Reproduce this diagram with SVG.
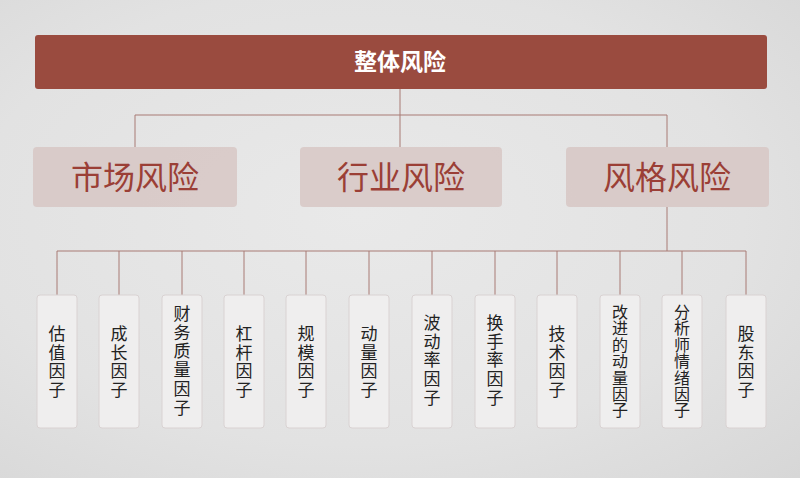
<svg xmlns="http://www.w3.org/2000/svg" width="800" height="478" viewBox="0 0 800 478">
<defs>
<radialGradient id="bg" cx="0.45" cy="0.45" r="0.8">
<stop offset="0" stop-color="#e9e9e9"/>
<stop offset="0.6" stop-color="#e2e2e2"/>
<stop offset="1" stop-color="#d6d6d6"/>
</radialGradient>
<style>
.conn{stroke:#a87a74;stroke-width:1;fill:none}
.mid rect{fill:#d7c7c4;opacity:0.85}
.mid text{font-family:"Noto Sans CJK SC","Noto Sans",sans-serif;font-size:32px;fill:#9b3f36;text-anchor:middle}
.leaf rect{fill:#efeeee;stroke:#d9d2d2;stroke-width:1}
.leaf text{font-family:"Noto Sans CJK SC","Noto Sans",sans-serif;font-size:17px;fill:#222;text-anchor:middle}
.leaf text.t7{font-size:16px}
</style>
</defs>
<rect width="800" height="478" fill="url(#bg)"/>
<g id="connectors" class="conn">
<path d="M400 89V115M135 115H667M135 115V147M400 115V147M667 115V147"/>
<path d="M667 207V251M57 251H746"/>
<path d="M57 251V295M119 251V295M182 251V295M244 251V295M306 251V295M369 251V295M432 251V295M495 251V295M557 251V295M620 251V295M682 251V295M746 251V295"/>
</g>
<g id="root">
<rect x="35" y="35" width="732" height="54" rx="3" fill="#9a4b3f"/>
<text x="400" y="70" font-family="Noto Sans CJK SC,Noto Sans,sans-serif" font-size="23" font-weight="bold" fill="#fff" text-anchor="middle">整体风险</text>
</g>
<g id="market" class="mid"><rect x="33" y="147" width="204" height="60" rx="4"/><text x="135" y="189">市场风险</text></g>
<g id="industry" class="mid"><rect x="300" y="147" width="202" height="60" rx="4"/><text x="401" y="189">行业风险</text></g>
<g id="style" class="mid"><rect x="566" y="147" width="203" height="60" rx="4"/><text x="667" y="189">风格风险</text></g>
<g id="f1" class="leaf"><rect x="37" y="295" width="40" height="133" rx="3"/><text><tspan x="57" y="340">估</tspan><tspan x="57" dy="18.7">值</tspan><tspan x="57" dy="18.7">因</tspan><tspan x="57" dy="18.7">子</tspan></text></g>
<g id="f2" class="leaf"><rect x="99" y="295" width="40" height="133" rx="3"/><text><tspan x="119" y="340">成</tspan><tspan x="119" dy="18.7">长</tspan><tspan x="119" dy="18.7">因</tspan><tspan x="119" dy="18.7">子</tspan></text></g>
<g id="f3" class="leaf"><rect x="162" y="295" width="40" height="133" rx="3"/><text><tspan x="182" y="320">财</tspan><tspan x="182" dy="18.7">务</tspan><tspan x="182" dy="18.7">质</tspan><tspan x="182" dy="18.7">量</tspan><tspan x="182" dy="18.7">因</tspan><tspan x="182" dy="18.7">子</tspan></text></g>
<g id="f4" class="leaf"><rect x="224" y="295" width="40" height="133" rx="3"/><text><tspan x="244" y="340">杠</tspan><tspan x="244" dy="18.7">杆</tspan><tspan x="244" dy="18.7">因</tspan><tspan x="244" dy="18.7">子</tspan></text></g>
<g id="f5" class="leaf"><rect x="286" y="295" width="40" height="133" rx="3"/><text><tspan x="306" y="340">规</tspan><tspan x="306" dy="18.7">模</tspan><tspan x="306" dy="18.7">因</tspan><tspan x="306" dy="18.7">子</tspan></text></g>
<g id="f6" class="leaf"><rect x="349" y="295" width="40" height="133" rx="3"/><text><tspan x="369" y="340">动</tspan><tspan x="369" dy="18.7">量</tspan><tspan x="369" dy="18.7">因</tspan><tspan x="369" dy="18.7">子</tspan></text></g>
<g id="f7" class="leaf"><rect x="412" y="295" width="40" height="133" rx="3"/><text><tspan x="432" y="329">波</tspan><tspan x="432" dy="18.7">动</tspan><tspan x="432" dy="18.7">率</tspan><tspan x="432" dy="18.7">因</tspan><tspan x="432" dy="18.7">子</tspan></text></g>
<g id="f8" class="leaf"><rect x="475" y="295" width="40" height="133" rx="3"/><text><tspan x="495" y="329">换</tspan><tspan x="495" dy="18.7">手</tspan><tspan x="495" dy="18.7">率</tspan><tspan x="495" dy="18.7">因</tspan><tspan x="495" dy="18.7">子</tspan></text></g>
<g id="f9" class="leaf"><rect x="537" y="295" width="40" height="133" rx="3"/><text><tspan x="557" y="340">技</tspan><tspan x="557" dy="18.7">术</tspan><tspan x="557" dy="18.7">因</tspan><tspan x="557" dy="18.7">子</tspan></text></g>
<g id="f10" class="leaf"><rect x="600" y="295" width="40" height="133" rx="3"/><text class="t7"><tspan x="620" y="318">改</tspan><tspan x="620" dy="16.4">进</tspan><tspan x="620" dy="16.4">的</tspan><tspan x="620" dy="16.4">动</tspan><tspan x="620" dy="16.4">量</tspan><tspan x="620" dy="16.4">因</tspan><tspan x="620" dy="16.4">子</tspan></text></g>
<g id="f11" class="leaf"><rect x="662" y="295" width="40" height="133" rx="3"/><text class="t7"><tspan x="682" y="318">分</tspan><tspan x="682" dy="16.4">析</tspan><tspan x="682" dy="16.4">师</tspan><tspan x="682" dy="16.4">情</tspan><tspan x="682" dy="16.4">绪</tspan><tspan x="682" dy="16.4">因</tspan><tspan x="682" dy="16.4">子</tspan></text></g>
<g id="f12" class="leaf"><rect x="726" y="295" width="40" height="133" rx="3"/><text><tspan x="746" y="340">股</tspan><tspan x="746" dy="18.7">东</tspan><tspan x="746" dy="18.7">因</tspan><tspan x="746" dy="18.7">子</tspan></text></g>
</svg>
